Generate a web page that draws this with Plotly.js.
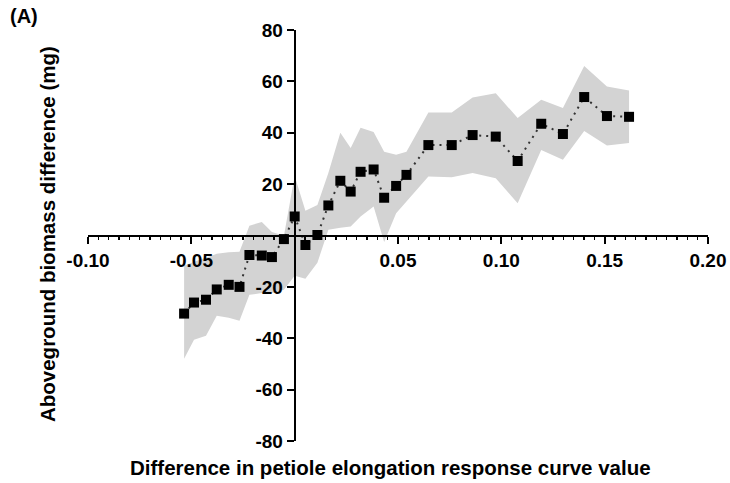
<!DOCTYPE html>
<html>
<head>
<meta charset="utf-8">
<script src="https://cdn.plot.ly/plotly-3.0.1.min.js"></script>
<style>html,body{margin:0;padding:0;background:#fff;}#chart{width:730px;height:483px;}</style>
</head>
<body>
<div id="chart"></div>
<script>
// Difference in petiole elongation response curve value
const xValues = [-0.0535, -0.0487, -0.0429, -0.0377, -0.0319, -0.0267, -0.0219, -0.0159, -0.0110, -0.0052,
  0.0000, 0.0052, 0.0110, 0.0163, 0.0221, 0.0271, 0.0319, 0.0382, 0.0433, 0.0491,
  0.0541, 0.0647, 0.0760, 0.0861, 0.0973, 0.1079, 0.1193, 0.1298, 0.1401, 0.1511, 0.1618];
// Aboveground biomass difference (mg), mean
const meanValues = [-30.4, -26.1, -25.0, -21.0, -19.2, -20.0, -7.6, -7.8, -8.4, -1.4,
  7.4, -3.7, 0.2, 11.7, 21.3, 17.1, 24.8, 25.7, 14.7, 19.3,
  23.6, 35.2, 35.2, 39.1, 38.5, 29.0, 43.5, 39.5, 53.9, 46.5, 46.2];
// confidence band, upper and lower limits
const upperValues = [-11.8, -10.2, -8.7, -7.1, -6.5, -6.3, 3.8, 5.3, 1.4, -0.1,
  23.2, 9.6, 11.9, 24.3, 40.0, 34.1, 41.9, 40.3, 32.6, 31.4,
  32.6, 47.9, 47.9, 53.7, 55.4, 45.7, 52.8, 49.6, 66.0, 58.0, 56.4];
const lowerValues = [-48.0, -40.6, -39.0, -31.2, -32.0, -33.2, -23.1, -22.4, -22.4, -21.1,
  -15.7, -16.8, -10.6, 2.2, 3.0, 3.5, 7.4, 11.3, -2.5, 8.7,
  13.2, 23.0, 22.7, 24.3, 22.3, 12.6, 33.3, 29.5, 40.7, 35.0, 36.0];

const xTickVals = [-0.10, -0.05, 0.05, 0.10, 0.15, 0.20];
const xTickText = ['-0.10', '-0.05', '0.05', '0.10', '0.15', '0.20'];
const yTickVals = [-80, -60, -40, -20, 20, 40, 60, 80];
const yTickText = ['-80', '-60', '-40', '-20', '20', '40', '60', '80'];

const xRange = [-0.10, 0.20];
const yRange = [-80, 80];

const fontFam = 'Liberation Sans, Arial, sans-serif';

const traces = [
  {x: xValues, y: lowerValues, mode: 'lines', line: {width: 0, color: 'rgba(0,0,0,0)'},
   hoverinfo: 'skip', showlegend: false},
  {x: xValues, y: upperValues, mode: 'lines', line: {width: 0, color: 'rgba(0,0,0,0)'},
   fill: 'tonexty', fillcolor: '#d3d3d3', hoverinfo: 'skip', showlegend: false},
  {x: xValues, y: meanValues, mode: 'lines+markers',
   line: {color: '#333333', width: 2, dash: '2px,5px'},
   marker: {symbol: 'square', size: 10, color: '#000000'}, showlegend: false}
];

const axisCommon = {
  showgrid: false, zeroline: false, showline: true, linecolor: '#000', linewidth: 2.5,
  ticks: 'outside', ticklen: 7, tickwidth: 2, tickcolor: '#000',
  tickfont: {family: fontFam, size: 19, color: '#000', weight: 'bold'},
  anchor: 'free', fixedrange: true
};

const layout = {
  width: 730, height: 483,
  margin: {l: 88, r: 22, t: 30, b: 42},
  paper_bgcolor: '#fff', plot_bgcolor: '#fff',
  showlegend: false,
  xaxis: Object.assign({}, axisCommon, {
    range: xRange, tickmode: 'array', tickvals: xTickVals, ticktext: xTickText,
    position: (0 - yRange[0]) / (yRange[1] - yRange[0]),
    minor: {tickmode: 'linear', tick0: 0, dtick: 0.005, ticks: 'outside', ticklen: 3, tickwidth: 1.5, tickcolor: '#000'}
  }),
  yaxis: Object.assign({}, axisCommon, {
    range: yRange, tickmode: 'array', tickvals: yTickVals, ticktext: yTickText,
    position: (0 - xRange[0]) / (xRange[1] - xRange[0])
  }),
  annotations: [
    {text: 'Difference in petiole elongation response curve value', xref: 'paper', yref: 'paper',
     x: 0.4887, y: -0.0633, xanchor: 'center', yanchor: 'middle', showarrow: false,
     font: {family: fontFam, size: 20.5, color: '#000', weight: 'bold'}},
    {text: 'Aboveground biomass difference (mg)', xref: 'paper', yref: 'paper',
     x: -0.0661, y: 0.5036, xanchor: 'center', yanchor: 'middle', textangle: -90, showarrow: false,
     font: {family: fontFam, size: 20.5, color: '#000', weight: 'bold'}},
    {text: '(A)', xref: 'paper', yref: 'paper', x: -0.129, y: 1.034, xanchor: 'left', yanchor: 'middle',
     showarrow: false, font: {family: fontFam, size: 20, color: '#000', weight: 'bold'}}
  ]
};

Plotly.newPlot('chart', traces, layout, {staticPlot: true, displayModeBar: false});
</script>
</body>
</html>
